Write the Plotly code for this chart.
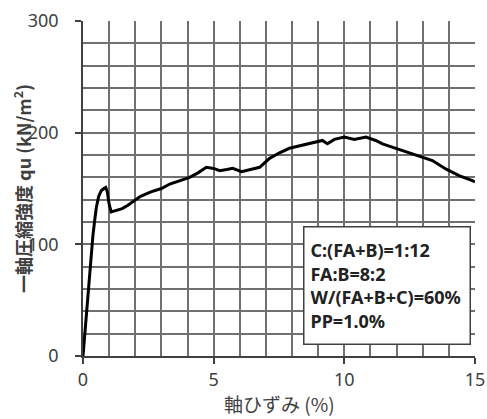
import plotly.graph_objects as go

# axial strain (%) and unconfined compressive strength qu (kN/m2)
strain = [0, 0.1, 0.2, 0.3, 0.38, 0.45, 0.51, 0.6, 0.7, 0.8, 0.87, 0.93, 1.0, 1.08,
          1.2, 1.34, 1.5, 1.72, 2.0, 2.2, 2.6, 3.0, 3.32, 3.7, 4.08, 4.4, 4.72, 5.0,
          5.23, 5.5, 5.73, 6.06, 6.37, 6.76, 7.14, 7.52, 7.9, 8.28, 8.78, 9.16, 9.35,
          9.62, 10.0, 10.38, 10.83, 11.2, 11.46, 11.72, 12.23, 12.86, 13.37, 13.88,
          14.39, 14.9, 15.0]
stress = [0, 30, 60, 90, 108, 122, 133, 143, 148, 150, 151, 147, 136, 129,
          130, 131, 132, 135, 140, 143, 147, 150, 154, 157, 160, 164, 169, 168,
          166, 167, 168, 165, 167, 169, 177, 182, 186, 188, 191, 193, 190,
          194, 196, 194, 196, 193, 190, 188, 184, 178.5, 175, 167.5,
          161.6, 157, 156]

x_ticks = [0, 5, 10, 15]
y_ticks = [0, 100, 200, 300]
note_lines = ["C:(FA+B)=1:12", "FA:B=8:2", "W/(FA+B+C)=60%", "PP=1.0%"]
x_title = "軸ひずみ (%)"
y_title = "一軸圧縮強度 qu (kN/m<sup>2</sup>)"

grid_col = "#707070"
tick_font = dict(family="Noto Sans, Noto Sans CJK JP", size=18, color="#404040")

fig = go.Figure()
fig.add_trace(go.Scatter(x=strain, y=stress, mode="lines",
                         line=dict(color="black", width=3), showlegend=False))

fig.update_xaxes(range=[0, 15], tickvals=x_ticks, ticks="outside", ticklen=6,
                 tickcolor="#404040", tickwidth=1.5, automargin=False,
                 showgrid=True, gridcolor=grid_col, gridwidth=1.5,
                 minor=dict(dtick=1, showgrid=True, gridcolor=grid_col, gridwidth=1.5),
                 showline=True, linecolor="#404040", linewidth=1.5, mirror=False,
                 zeroline=False, tickfont=tick_font, ticklabelstandoff=1)
fig.update_yaxes(range=[0, 300], tickvals=y_ticks, ticks="outside", ticklen=6,
                 tickcolor="#404040", tickwidth=1.5, automargin=False,
                 showgrid=True, gridcolor=grid_col, gridwidth=1.5,
                 minor=dict(dtick=20, showgrid=True, gridcolor=grid_col, gridwidth=1.5),
                 showline=True, linecolor="#404040", linewidth=1.5, mirror=False,
                 zeroline=False, tickfont=tick_font, ticklabelstandoff=13)

fig.add_annotation(xref="paper", yref="paper", x=0.5, y=-63 / 335,
                   text=x_title, showarrow=False, xanchor="center", yanchor="bottom",
                   font=dict(family="Noto Sans CJK JP", size=19, color="#404040"))
fig.add_annotation(xref="paper", yref="paper", x=-(83 - 22) / 392, y=(356 - 189) / 335,
                   text="<b>" + y_title + "</b>", showarrow=False, textangle=-90,
                   xanchor="center", yanchor="middle",
                   font=dict(family="Noto Sans CJK JP", size=18, color="#404040"))

fig.add_annotation(xref="x", yref="y", x=8.43, y=116.2, xanchor="left", yanchor="top",
                   text="<br>".join("<b>" + t + "</b>" for t in note_lines),
                   showarrow=False, align="left", width=153, height=104,
                   bgcolor="white", bordercolor="#404040", borderwidth=1.5, borderpad=6,
                   font=dict(family="Noto Sans", size=18, color="#222222"))

fig.update_layout(width=487, height=419, margin=dict(l=83, r=12, t=21, b=63),
                  plot_bgcolor="white", paper_bgcolor="white")
fig.write_html("out.html", config={"displayModeBar": False},
               post_script="document.body.style.margin='0';document.body.style.overflow='hidden';")
